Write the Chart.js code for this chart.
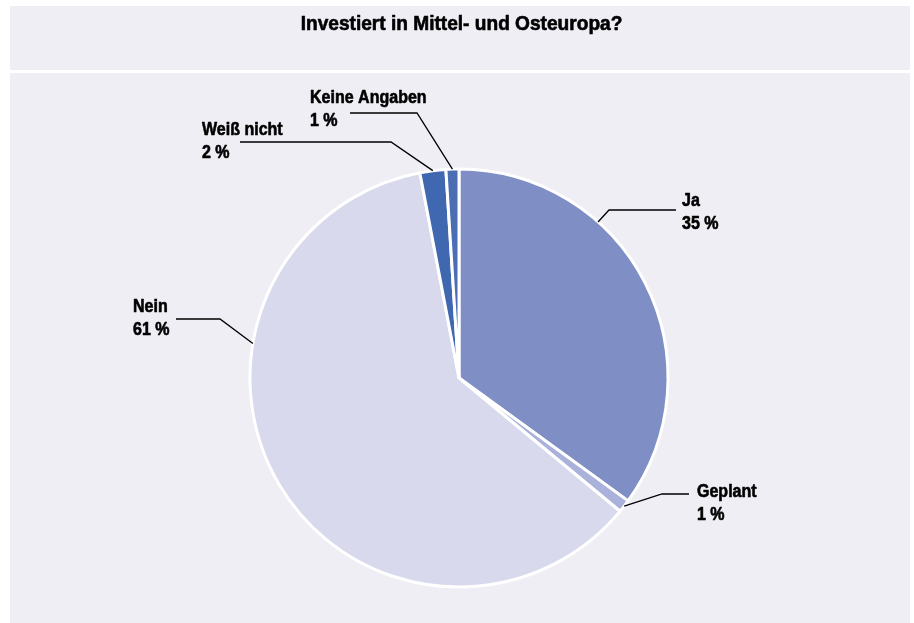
<!DOCTYPE html>
<html>
<head>
<meta charset="utf-8">
<script src="https://cdn.jsdelivr.net/npm/chart.js@4"></script>
<style>
  html, body { margin: 0; padding: 0; background: #ffffff; }
  #wrap { width: 914px; height: 623px; position: relative; }
</style>
</head>
<body>
<div id="wrap"><canvas id="c" width="914" height="623"></canvas></div>
<script>
// ---- data ----
const chartTitle = 'Investiert in Mittel- und Osteuropa?';
const categories = ['Ja', 'Geplant', 'Nein', 'Weiß nicht', 'Keine Angaben'];
const shares = [35, 1, 61, 2, 1];
const valueLabels = ['35 %', '1 %', '61 %', '2 %', '1 %'];

// ---- styles ----
const sliceColors = ['#7f8fc5', '#aab1da', '#d8d9ec', '#4068b0', '#4a6db4'];
const panelColor = '#efeef5';
const FONT = '"Liberation Sans", Arial, sans-serif';
const LABEL_NARROW = 0.89;  // horizontal condensing of label text
const TITLE_NARROW = 0.98;  // horizontal condensing of title text

// label layout (relative to pie centre): optional anchor angle (deg from top),
// elbow point, end of horizontal line, text x, baseline offset
const labelLayout = [
  { angle: 41.7, elbow: [150, -168], lineEnd: 217, textX: 223, base: -4 },
  { angle: null, elbow: [203, 116], lineEnd: 230, textX: 238, base: 3 },
  { angle: 279.5, elbow: [-239, -59], lineEnd: -283, textX: -326, base: -7 },
  { angle: null, elbow: [-68, -236], lineEnd: -219, textX: -257, base: -7 },
  { angle: null, elbow: [-42, -265], lineEnd: -109, textX: -149, base: -10 }
];

function narrowText(ctx, text, x, y, align, sx) {
  ctx.save();
  ctx.translate(x, y);
  ctx.scale(sx, 1);
  ctx.textAlign = align;
  ctx.lineJoin = 'round';
  ctx.lineWidth = 0.6;
  ctx.strokeStyle = ctx.fillStyle;
  ctx.fillText(text, 0, 0);
  ctx.strokeText(text, 0, 0);
  ctx.restore();
}

const panels = {
  id: 'panels',
  beforeDraw(chart) {
    const ctx = chart.ctx;
    ctx.save();
    ctx.fillStyle = '#ffffff';
    ctx.fillRect(0, 0, chart.width, chart.height);
    ctx.fillStyle = panelColor;
    ctx.fillRect(10, 6, 900, 64);
    ctx.fillRect(10, 73, 900, chart.height - 73);
    ctx.fillStyle = '#000000';
    ctx.font = 'bold 19.5px ' + FONT;
    ctx.textBaseline = 'alphabetic';
    narrowText(ctx, chartTitle, 461.5, 30, 'center', TITLE_NARROW);
    ctx.restore();
  }
};

const leaderLabels = {
  id: 'leaderLabels',
  afterDatasetsDraw(chart) {
    const ctx = chart.ctx;
    const meta = chart.getDatasetMeta(0);
    ctx.save();
    meta.data.forEach((arc, i) => {
      const L = labelLayout[i];
      const cx = arc.x, cy = arc.y, r = arc.outerRadius;
      let a;
      if (L.angle === null) {
        a = (arc.startAngle + arc.endAngle) / 2;
      } else {
        a = (L.angle - 90) * Math.PI / 180;
      }
      const ax = cx + Math.cos(a) * r;
      const ay = cy + Math.sin(a) * r;
      const ex = cx + L.elbow[0], ey = cy + L.elbow[1];
      const lx = cx + L.lineEnd;
      ctx.strokeStyle = '#000000';
      ctx.lineWidth = 1.3;
      ctx.beginPath();
      ctx.moveTo(ax, ay);
      ctx.lineTo(ex, ey);
      ctx.lineTo(lx, ey);
      ctx.stroke();
      ctx.fillStyle = '#000000';
      ctx.font = 'bold 18px ' + FONT;
      ctx.textBaseline = 'alphabetic';
      const tx = cx + L.textX;
      narrowText(ctx, categories[i], tx, ey + L.base, 'left', LABEL_NARROW);
      narrowText(ctx, valueLabels[i], tx, ey + L.base + 23, 'left', LABEL_NARROW);
    });
    ctx.restore();
  }
};

new Chart(document.getElementById('c'), {
  type: 'pie',
  data: {
    labels: categories,
    datasets: [{
      data: shares,
      backgroundColor: sliceColors,
      borderColor: '#ffffff',
      borderWidth: 3,
      radius: 209,
      clip: false
    }]
  },
  options: {
    responsive: false,
    animation: false,
    devicePixelRatio: 1,
    layout: { padding: { left: 8, right: 4, top: 134.8, bottom: 1.8 } },
    plugins: {
      legend: { display: false },
      tooltip: { enabled: false },
      title: { display: false }
    }
  },
  plugins: [panels, leaderLabels]
});
</script>
</body>
</html>
